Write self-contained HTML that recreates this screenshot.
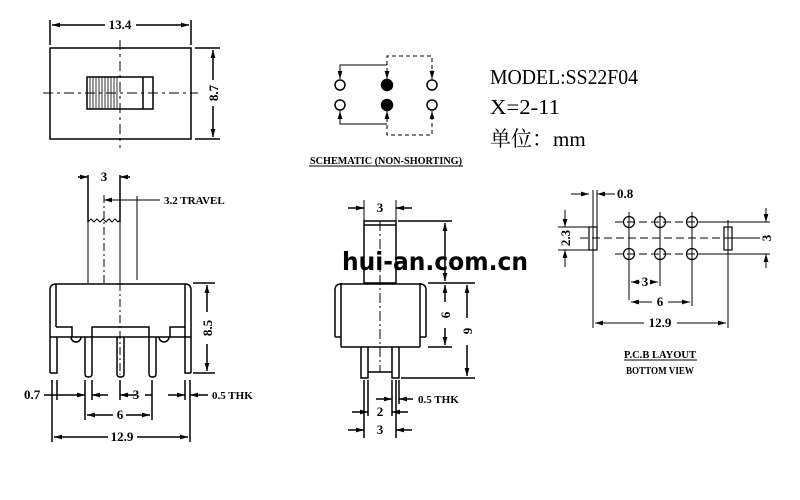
<!DOCTYPE html>
<html><head><style>
body{margin:0;background:#fff}
svg{display:block}
text{font-family:"Liberation Serif",serif;font-weight:bold;fill:#000}
</style></head><body>
<svg width="800" height="500" viewBox="0 0 800 500" xmlns="http://www.w3.org/2000/svg">
<defs>
<marker id="a" viewBox="0 0 10 6" refX="10" refY="3" markerWidth="8" markerHeight="5" orient="auto-start-reverse" markerUnits="userSpaceOnUse"><path d="M0,0L10,3L0,6z" fill="#000"/></marker>
</defs>
<g stroke="#000" stroke-width="1.5" fill="none">
<!-- top view -->
<rect x="50" y="48" width="141" height="91"/>
<line x1="50" y1="20" x2="50" y2="45"/><line x1="191" y1="20" x2="191" y2="45"/>
<line x1="52" y1="25" x2="105" y2="25" marker-start="url(#a)"/><line x1="136" y1="25" x2="189" y2="25" marker-end="url(#a)"/>
<line x1="120" y1="40" x2="120" y2="148" stroke-dasharray="10,4,3,4" stroke-width="1"/>
<line x1="43" y1="93" x2="198" y2="93" stroke-dasharray="10,4,3,4" stroke-width="1"/>
<rect x="87" y="77" width="66" height="32"/>
<line x1="143" y1="77" x2="143" y2="109"/>
<path d="M90,77V109M93,77V109M96,77V109M99,77V109M102,77V109M105,77V109M108,77V109M111,77V109M114,77V109M117,77V109" stroke-width="0.8"/>
<line x1="195" y1="48" x2="220" y2="48"/><line x1="195" y1="139" x2="220" y2="139"/>
<line x1="213" y1="50" x2="213" y2="80" marker-start="url(#a)"/><line x1="213" y1="106" x2="213" y2="137" marker-end="url(#a)"/>
<!-- side view -->
<path d="M88,283V222M120,283V222M88,222l3,-3 3,3 3,-3 3,3 3,-3 3,3 3,-3 3,3 3,-3 3,3 2,-2" stroke-width="1"/>
<line x1="88" y1="175" x2="88" y2="222"/><line x1="120" y1="175" x2="120" y2="222"/>
<line x1="104" y1="195" x2="104" y2="283" stroke-dasharray="8,3,2,3" stroke-width="1"/>
<line x1="137" y1="196" x2="137" y2="280" stroke-width="1"/>
<line x1="78" y1="177" x2="88" y2="177" marker-end="url(#a)"/><line x1="130" y1="177" x2="120" y2="177" marker-end="url(#a)"/>
<line x1="104" y1="200" x2="160" y2="200" stroke-width="1"/>
<line x1="104" y1="200" x2="114" y2="200" marker-start="url(#a)" stroke-width="1"/>
<path d="M50,373V290q0,-6 6,-6H185q6,0 6,6V373"/>
<path d="M56,284V327M185,284V327"/>
<path d="M56,327H72V337H83M92,337V327H149V337M158,337H170V327H185V337H56M50,337H56"/>
<path d="M185,337H191"/>
<path d="M71,337a5,5 0 0 0 10,0M159,337a5,5 0 0 0 10,0"/>
<path d="M50,373H57V337M185,337V373H191"/>
<path d="M85,337V374q0,3 3.5,3q3.5,0 3.5,-3V337M117,337V374q0,3 3.5,3q3.5,0 3.5,-3V337M149,337V374q0,3 3.5,3q3.5,0 3.5,-3V337"/>
<line x1="120" y1="283" x2="120" y2="375" stroke-dasharray="8,3,2,3" stroke-width="1"/>
<line x1="193" y1="283" x2="215" y2="283"/><line x1="193" y1="373" x2="215" y2="373"/>
<line x1="207" y1="285" x2="207" y2="312" marker-start="url(#a)"/><line x1="207" y1="344" x2="207" y2="371" marker-end="url(#a)"/>
<path d="M52,380V442M57,380V400M85,380V420M92,380V400M120,380V400M152,380V420M185,380V400M190,380V442"/>
<line x1="44" y1="395" x2="85" y2="395" marker-end="url(#a)"/><line x1="108" y1="395" x2="92" y2="395" marker-end="url(#a)"/>
<line x1="136" y1="395" x2="120" y2="395" marker-end="url(#a)"/><line x1="152" y1="395" x2="145" y2="395"/>
<line x1="168" y1="395" x2="185" y2="395" marker-end="url(#a)"/><line x1="208" y1="395" x2="190" y2="395" marker-end="url(#a)"/>
<line x1="87" y1="415" x2="113" y2="415" marker-start="url(#a)"/><line x1="126" y1="415" x2="150" y2="415" marker-end="url(#a)"/>
<line x1="54" y1="437" x2="108" y2="437" marker-start="url(#a)"/><line x1="137" y1="437" x2="188" y2="437" marker-end="url(#a)"/>
<!-- front view -->
<rect x="364" y="221" width="32" height="62"/>
<line x1="364" y1="225" x2="396" y2="225"/>
<line x1="380" y1="221" x2="380" y2="372" stroke-dasharray="10,3,2,3" stroke-width="1"/>
<path d="M335,337V290q0,-6 6,-6H420q6,0 6,6V337"/>
<path d="M341,284V337M420,284V337M335,337H341M420,337H426M341,347V283M420,347V283M341,347H420"/>
<path d="M361,347V378H368V347M392,347V378H399V347M368,372H392"/>
<line x1="364" y1="200" x2="364" y2="221" stroke-width="1"/><line x1="396" y1="200" x2="396" y2="221" stroke-width="1"/>
<line x1="348" y1="208" x2="364" y2="208" marker-end="url(#a)"/><line x1="412" y1="208" x2="396" y2="208" marker-end="url(#a)"/>
<line x1="398" y1="221" x2="452" y2="221"/><line x1="428" y1="283" x2="475" y2="283"/><line x1="428" y1="347" x2="452" y2="347"/><line x1="401" y1="378" x2="475" y2="378"/>
<line x1="445" y1="223" x2="445" y2="281" marker-start="url(#a)" marker-end="url(#a)"/>
<line x1="445" y1="285" x2="445" y2="302" marker-start="url(#a)"/><line x1="445" y1="328" x2="445" y2="345" marker-end="url(#a)"/>
<line x1="467" y1="285" x2="467" y2="318" marker-start="url(#a)"/><line x1="467" y1="345" x2="467" y2="376" marker-end="url(#a)"/>
<path d="M364,380V438M368,380V416M392,380V416M396,380V438M399,380V404"/>
<line x1="376" y1="399" x2="392" y2="399" marker-end="url(#a)"/><line x1="413" y1="399" x2="399" y2="399" marker-end="url(#a)"/>
<line x1="352" y1="412" x2="368" y2="412" marker-end="url(#a)"/><line x1="408" y1="412" x2="392" y2="412" marker-end="url(#a)"/>
<line x1="348" y1="430" x2="364" y2="430" marker-end="url(#a)"/><line x1="412" y1="430" x2="396" y2="430" marker-end="url(#a)"/>
<!-- schematic -->
<circle cx="340" cy="85" r="5"/><circle cx="340" cy="105" r="5"/>
<circle cx="432" cy="85" r="5"/><circle cx="432" cy="105" r="5"/>
<circle cx="387" cy="85" r="5.5" fill="#000"/><circle cx="387" cy="105" r="5.5" fill="#000"/>
<path d="M387,79V56H432V79M387,111V135H432V111" stroke-dasharray="4,3" stroke-width="1"/>
<path d="M340,79V65H387M340,111V124H387" stroke-width="1"/>
<line x1="340" y1="70" x2="340" y2="79" marker-end="url(#a)" stroke-width="1"/>
<line x1="340" y1="120" x2="340" y2="111" marker-end="url(#a)" stroke-width="1"/>
<line x1="387" y1="70" x2="387" y2="79" marker-end="url(#a)" stroke-width="1"/>
<line x1="387" y1="120" x2="387" y2="111" marker-end="url(#a)" stroke-width="1"/>
<line x1="432" y1="70" x2="432" y2="79" marker-end="url(#a)" stroke-width="1"/>
<line x1="432" y1="120" x2="432" y2="111" marker-end="url(#a)" stroke-width="1"/>
<line x1="309" y1="166" x2="463" y2="166" stroke-width="1"/>
<!-- PCB -->
<g stroke-width="1.2">
<circle cx="629" cy="222" r="5.5"/><circle cx="660" cy="222" r="5.5"/><circle cx="692" cy="222" r="5.5"/>
<circle cx="629" cy="254" r="5.5"/><circle cx="660" cy="254" r="5.5"/><circle cx="692" cy="254" r="5.5"/>
<rect x="589" y="227" width="8" height="23"/><rect x="724" y="227" width="8" height="23"/>
</g>
<path d="M615,222H706M615,254H706M580,238H750" stroke-dasharray="8,4" stroke-width="1"/>
<path d="M698,222H770M698,254H770M732,238H760M558,227H589M558,250H589" stroke-width="1"/>
<path d="M629,212V300M660,212V286M692,212V306M593,190V328M597,190V227M728,220V328" stroke-width="1"/>
<line x1="571" y1="194" x2="589" y2="194" marker-end="url(#a)" stroke-width="1"/><line x1="615" y1="194" x2="597" y2="194" marker-end="url(#a)" stroke-width="1"/>
<line x1="565" y1="210" x2="565" y2="227" marker-end="url(#a)" stroke-width="1"/><line x1="565" y1="267" x2="565" y2="250" marker-end="url(#a)" stroke-width="1"/>
<line x1="766" y1="208" x2="766" y2="222" marker-end="url(#a)" stroke-width="1"/><line x1="766" y1="268" x2="766" y2="254" marker-end="url(#a)" stroke-width="1"/>
<line x1="631" y1="282" x2="640" y2="282" marker-start="url(#a)" stroke-width="1"/><line x1="650" y1="282" x2="658" y2="282" marker-end="url(#a)" stroke-width="1"/>
<line x1="631" y1="302" x2="652" y2="302" marker-start="url(#a)" stroke-width="1"/><line x1="668" y1="302" x2="690" y2="302" marker-end="url(#a)" stroke-width="1"/>
<line x1="595" y1="323" x2="644" y2="323" marker-start="url(#a)" stroke-width="1"/><line x1="677" y1="323" x2="726" y2="323" marker-end="url(#a)" stroke-width="1"/>
<line x1="624" y1="360" x2="697" y2="360" stroke-width="1"/>
</g>
<g font-size="13">
<text x="120" y="29" text-anchor="middle">13.4</text>
<text transform="translate(218,93) rotate(-90)" text-anchor="middle">8.7</text>
<text x="104" y="181" text-anchor="middle">3</text>
<text x="164" y="204" font-size="11">3.2 TRAVEL</text>
<text transform="translate(212,328) rotate(-90)" text-anchor="middle">8.5</text>
<text x="24" y="399">0.7</text>
<text x="136" y="399" text-anchor="middle">3</text>
<text x="212" y="399" font-size="11">0.5 THK</text>
<text x="120" y="419" text-anchor="middle">6</text>
<text x="122" y="441" text-anchor="middle">12.9</text>
<text x="380" y="212" text-anchor="middle">3</text>
<text transform="translate(450,315) rotate(-90)" text-anchor="middle">6</text>
<text transform="translate(472,331) rotate(-90)" text-anchor="middle">9</text>
<text x="418" y="403" font-size="11">0.5 THK</text>
<text x="380" y="416" text-anchor="middle">2</text>
<text x="380" y="434" text-anchor="middle">3</text>
<text x="617" y="198">0.8</text>
<text transform="translate(570,238) rotate(-90)" text-anchor="middle">2.3</text>
<text transform="translate(771,238) rotate(-90)" text-anchor="middle">3</text>
<text x="645" y="286" text-anchor="middle">3</text>
<text x="660" y="306" text-anchor="middle">6</text>
<text x="660" y="327" text-anchor="middle">12.9</text>
</g>
<text x="386" y="164" font-size="10" text-anchor="middle" textLength="152" lengthAdjust="spacingAndGlyphs">SCHEMATIC (NON-SHORTING)</text>
<text x="660" y="358" font-size="10" text-anchor="middle" textLength="72" lengthAdjust="spacingAndGlyphs">P.C.B LAYOUT</text>
<text x="660" y="374" font-size="10" text-anchor="middle" textLength="68" lengthAdjust="spacingAndGlyphs">BOTTOM VIEW</text>
<text x="490" y="84" font-size="21" style="font-weight:normal" textLength="148" lengthAdjust="spacingAndGlyphs">MODEL:SS22F04</text>
<text x="490" y="114" font-size="21" style="font-weight:normal" textLength="70" lengthAdjust="spacingAndGlyphs">X=2-11</text>
<text x="490" y="146" font-size="21" style="font-weight:normal;font-family:'Liberation Serif','Noto Serif CJK SC',serif">单位：mm</text>
<text x="342" y="270" font-size="25" style="font-family:'DejaVu Sans',sans-serif;font-weight:bold" textLength="186" lengthAdjust="spacingAndGlyphs">hui-an.com.cn</text>
</svg>
</body></html>
